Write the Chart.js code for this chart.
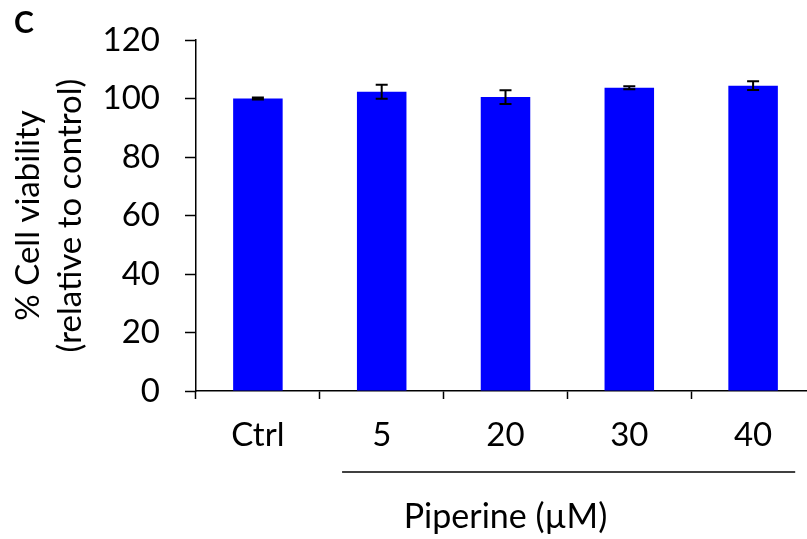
<!DOCTYPE html>
<html>
<head>
<meta charset="utf-8">
<script src="https://cdn.jsdelivr.net/npm/chart.js@4"></script>
<style>
  html, body { margin: 0; padding: 0; background: #fff; overflow: hidden; }
  #wrap { position: absolute; left: 0; top: 0; width: 816px; height: 539px; }
  #panel { position: absolute; left: 14px; top: 3px; font: bold 30px Lato, sans-serif; color: #000; }
</style>
</head>
<body>
<div id="wrap"><canvas id="chart"></canvas></div>
<div id="panel">C</div>
<script>
// data
const categories = ['Ctrl', '5', '20', '30', '40'];
const viability = [100, 102.3, 100.5, 103.7, 104.4];
const errors = [0.3, 2.4, 2.35, 0.5, 1.5];
const yTicks = [0, 20, 40, 60, 80, 100, 120];
const groupFrom = 1, groupTo = 4; // concentrations under the bracket

const FONT = 'Lato, sans-serif';

// error bars
const errorBars = {
  id: 'errorBars',
  afterDatasetsDraw(chart) {
    const { ctx, scales: { y } } = chart;
    const meta = chart.getDatasetMeta(0);
    ctx.save();
    ctx.strokeStyle = '#000';
    ctx.lineWidth = 2;
    meta.data.forEach((bar, i) => {
      const top = y.getPixelForValue(viability[i] + errors[i]);
      const bot = y.getPixelForValue(viability[i] - errors[i]);
      ctx.beginPath();
      ctx.moveTo(bar.x, top); ctx.lineTo(bar.x, bot);
      ctx.moveTo(bar.x - 6, top); ctx.lineTo(bar.x + 6, top);
      ctx.moveTo(bar.x - 6, bot); ctx.lineTo(bar.x + 6, bot);
      ctx.stroke();
    });
    ctx.restore();
  }
};

// bracket line under the piperine groups
const bracket = {
  id: 'bracket',
  afterDraw(chart) {
    const { ctx, scales: { x } } = chart;
    const w = x.getPixelForValue(1) - x.getPixelForValue(0);
    const x0 = x.getPixelForValue(groupFrom) - w * 0.32;
    const x1 = x.getPixelForValue(groupTo) + w * 0.34;
    const yy = x.bottom - 67;
    ctx.save();
    ctx.strokeStyle = '#000';
    ctx.lineWidth = 1.5;
    ctx.beginPath();
    ctx.moveTo(x0, yy); ctx.lineTo(x1, yy);
    ctx.stroke();
    ctx.restore();
  }
};

new Chart(document.getElementById('chart'), {
  type: 'bar',
  data: {
    labels: categories,
    datasets: [{
      data: viability,
      backgroundColor: '#0000ff',
      borderWidth: 0,
      barPercentage: 0.4,
      categoryPercentage: 1
    }]
  },
  options: {
    responsive: true,
    maintainAspectRatio: false,
    animation: false,
    layout: { padding: { top: 40, right: 1, left: 0, bottom: 0 } },
    plugins: { legend: { display: false }, tooltip: { enabled: false } },
    scales: {
      x: {
        offset: true,
        grid: { offset: true, drawOnChartArea: false, drawTicks: true, tickLength: 8, tickColor: '#000', tickWidth: 1.5 },
        border: { color: '#000', width: 1.5 },
        ticks: { color: '#000', font: { family: FONT, size: 33 }, padding: 17, maxRotation: 0 },
        title: { display: true, text: 'Piperine (µM)', color: '#000', font: { family: FONT, size: 34 }, padding: { top: 0, bottom: 2 } },
        afterFit(scale) { scale.height = 148; }
      },
      y: {
        min: 0, max: 120,
        afterBuildTicks(scale) { scale.ticks = yTicks.map(v => ({ value: v })); },
        grid: { drawOnChartArea: false, drawTicks: true, tickLength: 11, tickColor: '#000', tickWidth: 1.5 },
        border: { color: '#000', width: 1.5 },
        ticks: { color: '#000', font: { family: FONT, size: 33 }, padding: 25 },
        title: { display: true, text: ['% Cell viability', '(relative to control)'], color: '#000', font: { family: FONT, size: 33, lineHeight: 1.25 }, padding: { top: 8, bottom: 0 } },
        afterFit(scale) {
          scale.width = 196;
          scale.paddingTop = 0;
          scale.paddingBottom = 0;
        }
      }
    }
  },
  plugins: [errorBars, bracket]
});
</script>
</body>
</html>
